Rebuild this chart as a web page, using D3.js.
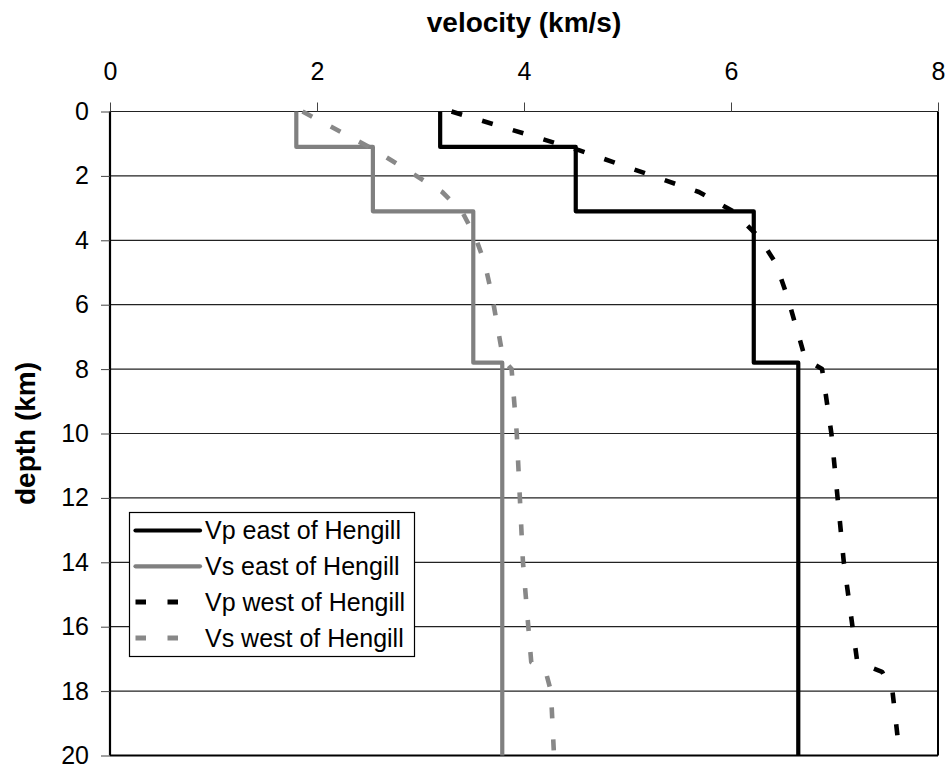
<!DOCTYPE html>
<html>
<head>
<meta charset="utf-8">
<script src="https://cdn.jsdelivr.net/npm/d3@7"></script>
<style>
  html, body { margin: 0; padding: 0; background: #fff; }
  svg { display: block; font-family: "Liberation Sans", Arial, sans-serif; }
</style>
</head>
<body>
<svg id="chart" width="952" height="776"></svg>
<script>
// Velocity profiles east and west of Hengill: [depth km, velocity km/s]
const vpEast = [[0, 3.19], [1.1, 3.19], [1.1, 4.5], [3.1, 4.5], [3.1, 6.22], [7.8, 6.22], [7.8, 6.65], [20, 6.65]];
const vsEast = [[0, 1.8], [1.1, 1.8], [1.1, 2.54], [3.1, 2.54], [3.1, 3.51], [7.8, 3.51], [7.8, 3.79], [20, 3.79]];
const vpWest = [[0, 3.30], [1.2, 4.53], [2.5, 5.69], [3.1, 6.02], [3.9, 6.27], [4.7, 6.43], [5.7, 6.54], [7.7, 6.72],
                [8.0, 6.88], [10, 6.97], [14, 7.09], [17.1, 7.22], [17.4, 7.46], [18, 7.56], [20, 7.63]];
const vsWest = [[0, 1.86], [1.2, 2.56], [2.5, 3.21], [3.1, 3.40], [3.9, 3.53], [4.7, 3.62], [5.7, 3.69], [7.7, 3.80],
                [8.0, 3.88], [10, 3.93], [14, 3.99], [17.1, 4.07], [17.4, 4.21], [18, 4.26], [20, 4.29]];

const seriesNames = ["Vp east of Hengill", "Vs east of Hengill", "Vp west of Hengill", "Vs west of Hengill"];
const xTicks = [0, 2, 4, 6, 8];
const yTicks = [0, 2, 4, 6, 8, 10, 12, 14, 16, 18, 20];
const xTitle = "velocity (km/s)";
const yTitle = "depth (km)";

const svg = d3.select("#chart");
const plotL = 110, plotR = 938, plotT = 111.5, plotB = 755.5;

const x = d3.scaleLinear().domain([0, 8]).range([plotL, plotR]);
const y = d3.scaleLinear().domain([0, 20]).range([plotT, plotB]);

// horizontal gridlines
svg.append("g")
  .selectAll("line")
  .data(yTicks.slice(0, -1))
  .join("line")
  .attr("x1", plotL).attr("x2", plotR)
  .attr("y1", d => y(d)).attr("y2", d => y(d))
  .attr("stroke", "#222").attr("stroke-width", 1.2);

// plot frame: left axis, right and bottom edges
svg.append("line").attr("x1", plotL).attr("x2", plotL).attr("y1", plotT).attr("y2", plotB)
  .attr("stroke", "#000").attr("stroke-width", 2.2);
svg.append("line").attr("x1", plotR).attr("x2", plotR).attr("y1", plotT).attr("y2", plotB)
  .attr("stroke", "#000").attr("stroke-width", 2);
svg.append("line").attr("x1", plotL).attr("x2", plotR).attr("y1", plotB).attr("y2", plotB)
  .attr("stroke", "#000").attr("stroke-width", 2);

// axes
const xAxis = svg.append("g")
  .attr("transform", `translate(0,${plotT})`)
  .call(d3.axisTop(x).tickValues(xTicks).tickFormat(d3.format("d")).tickSize(9).tickPadding(22.5));
const yAxis = svg.append("g")
  .attr("transform", `translate(${plotL},0)`)
  .call(d3.axisLeft(y).tickValues(yTicks).tickFormat(d3.format("d")).tickSize(9).tickPadding(12));

[xAxis, yAxis].forEach(g => {
  g.select(".domain").remove();
  g.selectAll(".tick line").attr("stroke", "#444").attr("stroke-width", 1);
  g.selectAll(".tick text").attr("fill", "#000")
    .style("font-family", "'Liberation Sans', Arial, sans-serif")
    .style("font-size", "25px");
});

// axis titles
svg.append("text")
  .attr("x", (plotL + plotR) / 2).attr("y", 31.5)
  .attr("text-anchor", "middle")
  .style("font-size", "28px").style("font-weight", "bold")
  .text(xTitle);
svg.append("text")
  .attr("transform", `translate(35,${(plotT + plotB) / 2}) rotate(-90)`)
  .attr("text-anchor", "middle")
  .style("font-size", "28px").style("font-weight", "bold")
  .text(yTitle);

// profile lines
const line = d3.line().x(d => x(d[1])).y(d => y(d[0]));
const styles = [
  { data: vpEast, color: "#000", dash: null, width: 4.2 },
  { data: vsEast, color: "#808080", dash: null, width: 4.2 },
  { data: vpWest, color: "#000", dash: "11,21", width: 4.6 },
  { data: vsWest, color: "#888", dash: "11,21", width: 4.6 }
];
styles.forEach(s => {
  svg.append("path")
    .datum(s.data)
    .attr("d", line)
    .attr("fill", "none")
    .attr("stroke", s.color)
    .attr("stroke-width", s.width)
    .attr("stroke-linejoin", "round")
    .attr("stroke-dasharray", s.dash);
});

// legend
const legend = svg.append("g");
legend.append("rect")
  .attr("x", 129.5).attr("y", 512.5).attr("width", 285).attr("height", 144)
  .attr("fill", "#fff").attr("stroke", "#000").attr("stroke-width", 1.2);
const rowY = i => 530.5 + i * 35.8;
styles.forEach((s, i) => {
  legend.append("line")
    .attr("x1", 135.5).attr("x2", s.dash ? 190 : 200)
    .attr("y1", rowY(i)).attr("y2", rowY(i))
    .attr("stroke", s.color)
    .attr("stroke-width", s.dash ? 5 : 4.2)
    .attr("stroke-linecap", s.dash ? "butt" : "round")
    .attr("stroke-dasharray", s.dash ? "10.5,21.5" : null);
  legend.append("text")
    .attr("x", 205).attr("y", rowY(i) + 8.8)
    .style("font-size", "25px")
    .text(seriesNames[i]);
});
</script>
</body>
</html>
